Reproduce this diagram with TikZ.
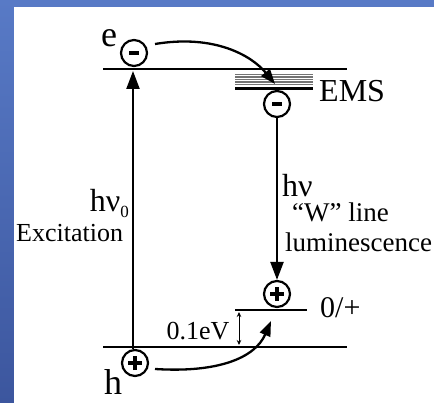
\documentclass[tikz,border=0pt]{standalone}
\usepackage{fontspec}
\setmainfont{Liberation Serif}
\usetikzlibrary{arrows.meta}
\definecolor{bgtop}{RGB}{88,122,198}
\definecolor{bgbot}{RGB}{60,86,158}
\newcommand{\chgminus}{\rule[-2pt]{10pt}{4pt}}
\newcommand{\chgplus}{\makebox[0pt]{\rule[-1.8pt]{14pt}{3.6pt}}\makebox[0pt]{\rule[-7pt]{3.6pt}{14pt}}}
\newcommand{\fs}[1]{\fontsize{#1}{#1}\selectfont}
\begin{document}
\begin{tikzpicture}[x=1pt,y=-1pt,
  lvl/.style={line width=2.8pt},
  conn/.style={line width=2.3pt},
  bigtip/.style={-{Triangle[length=18pt,width=13pt]}},
  curvtip/.style={-{Triangle[length=15pt,width=11pt]}},
  chg/.style={circle,draw,line width=2.2pt,minimum size=26pt,inner sep=0pt,fill=white},
  lab/.style={inner sep=0pt}]
\useasboundingbox (0,0) rectangle (434,403);
\shade[top color=bgtop,bottom color=bgbot] (0,0) rectangle (434,403);
\fill[white] (14,7) rectangle (434,403);

% levels
\coordinate (cbL) at (103,69);  \coordinate (cbR) at (347,69);
\coordinate (vbL) at (103,347); \coordinate (vbR) at (347,347);
\coordinate (lvL) at (235,310); \coordinate (lvR) at (307,310);
\draw[lvl] (cbL) -- (cbR);
\draw[lvl] (vbL) -- (vbR);
\draw[lvl] (lvL) -- (lvR);

% EMS band
\foreach \yy in {74.5,77,79.5,82,84.5}
  \draw[black!55,line width=1.1pt] (235,\yy) -- (313,\yy);
\draw[lvl] (235,88.5) -- (313,88.5);

% charges
\node[chg] (ce) at (134,53) {\chgminus};
\node[chg] (ch) at (135,363) {\chgplus};
\node[chg] (cm) at (277,104) {\chgminus};
\node[chg] (cp) at (277,294) {\chgplus};

% vertical transitions
\coordinate (exTip) at (133,71);
\draw[conn,bigtip] (ch.north -| exTip) -- (exTip);
\draw[conn,bigtip] (cm.south) -- (cp.north);

% curved transfers
\coordinate (tS) at (155,44);
\coordinate (tE) at (275,84);
\draw[conn,curvtip] (tS) .. controls (215,34) and (252,56) .. (tE);
\coordinate (bS) at (155,369);
\coordinate (bE) at (271,321);
\draw[conn,curvtip] (bS) .. controls (218,373) and (255,358) .. (bE);

% 0.1 eV gap
\coordinate (gT) at (239,312);
\coordinate (gB) at (239,345);
\draw[line width=0.9pt,{Stealth[length=5pt,width=4.5pt]}-{Stealth[length=5pt,width=4.5pt]}] (gT) -- (gB);

% labels
\node[lab] (le) at (109,38) {\fs{36}e};
\node[lab,anchor=base] (lh) at (113,395) {\fs{36}h};
\node[lab,anchor=west] (lems) at (319,91) {\fs{32}EMS};
\node[lab,anchor=west] (lzp) at (320,308) {\fs{30}0/+};
\node[lab,anchor=base] (lev) at (198,340) {\fs{26}0.1eV};
\node[lab,anchor=base east] (lhv0) at (129,212) {\fs{32}hν\raisebox{-6pt}{\fs{17}0}};
\node[lab,anchor=base west] (lexc) at (16,242) {\fs{26}Excitation};
\node[lab,anchor=base west] (lhv) at (282,197) {\fs{32}hν};
\node[lab,anchor=base west] (lw) at (292,222) {\fs{27}``W'' line};
\node[lab,anchor=base west] (llum) at (285,252) {\fs{27}luminescence};
\end{tikzpicture}
\end{document}
